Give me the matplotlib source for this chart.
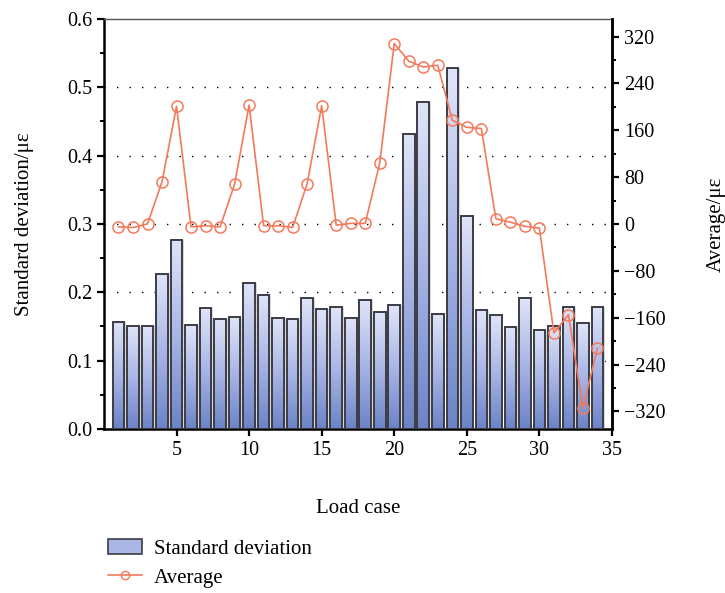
import numpy as np
import matplotlib
matplotlib.use("Agg")
import matplotlib.pyplot as plt
from matplotlib.patches import Patch
from matplotlib.lines import Line2D
from matplotlib.colors import LinearSegmentedColormap
from matplotlib.ticker import MultipleLocator, FormatStrFormatter

plt.rcParams['font.family'] = ['Liberation Serif', 'DejaVu Serif']
plt.rcParams['font.size'] = 15

# 数据
load_case = np.arange(1, 35)
std_dev = np.array([0.157, 0.151, 0.150, 0.227, 0.277, 0.152, 0.177, 0.161, 0.164, 0.214,
                    0.196, 0.163, 0.161, 0.191, 0.176, 0.178, 0.163, 0.189, 0.171, 0.181,
                    0.432, 0.479, 0.168, 0.528, 0.311, 0.174, 0.167, 0.149, 0.192, 0.145,
                    0.151, 0.179, 0.155, 0.178])
average = np.array([-5, -6, 0, 72, 201, -5, -3, -5, 68, 203,
                    -3, -3, -6, 69, 202, -2, 1, 1, 104, 308,
                    278, 268, 271, 177, 165, 163, 9, 3, -4, -7,
                    -186, -155, -314, -212])

fig = plt.figure(figsize=(7.25, 5.93), dpi=100)
ax1 = fig.add_axes([0.1434, 0.2766, 0.7007, 0.6914])

bar_cmap = LinearSegmentedColormap.from_list("bar", ["#6b83c6", "#a9b6e6", "#dfe5f8"])
grad = np.linspace(0, 1, 256).reshape(-1, 1)

# 柱状图（渐变填充）
bars = ax1.bar(load_case, std_dev, width=0.8, color="none", edgecolor="#3c3c46",
               linewidth=1.4, zorder=3)
for b in bars:
    x0, w, h = b.get_x(), b.get_width(), b.get_height()
    ax1.imshow(grad, extent=[x0, x0 + w, 0, h], origin="lower", cmap=bar_cmap,
               aspect="auto", zorder=2)
    # 右侧浅灰阴影
    ax1.add_patch(plt.Rectangle((x0 + w, 0), 0.12, h, color="#d8d8d8", lw=0, zorder=1))

ax1.set_xlim(0, 35)
ax1.set_ylim(0, 0.6)
ax1.set_xticks([5, 10, 15, 20, 25, 30, 35])
ax1.set_yticks(np.arange(0, 0.61, 0.1))
ax1.yaxis.set_minor_locator(MultipleLocator(0.05))
ax1.yaxis.set_major_formatter(FormatStrFormatter("%.1f"))
for y in [0.1, 0.2, 0.3, 0.4, 0.5]:
    ax1.axhline(y, color="black", linestyle=(0, (1, 8)), linewidth=1.0, zorder=0.5)
ax1.set_xlabel("Load case", labelpad=28)
ax1.set_ylabel("Standard deviation/\u03bc\u03b5", labelpad=24)

for s in ["left", "bottom", "right"]:
    ax1.spines[s].set_linewidth(1.8)
ax1.spines["top"].set_linewidth(1.0)
ax1.spines["top"].set_color("#555555")
ax1.tick_params(axis="both", which="major", direction="out", length=5, width=1.6,
                labelsize=14.5)
ax1.tick_params(axis="y", which="minor", direction="out", length=3, width=1.4)

# 右侧 y 轴：平均值
ax2 = ax1.twinx()
line_color = "#f47a5c"
ax2.plot(load_case, average, color=line_color, linewidth=1.2, marker="o",
         markersize=8, markerfacecolor="none", markeredgewidth=1.1, zorder=5)
ax2.set_ylim(-350, 350)
ax2.set_yticks(np.arange(-320, 321, 80))
ax2.yaxis.set_minor_locator(MultipleLocator(40))
ax2.set_ylabel("Average/\u03bc\u03b5", labelpad=30)
ax2.spines["right"].set_linewidth(1.8)
ax2.tick_params(axis="y", which="major", direction="out", length=5, width=1.6,
                labelsize=14.5)
ax2.tick_params(axis="y", which="minor", direction="out", length=3, width=1.4)
for s in ["left", "top", "bottom"]:
    ax2.spines[s].set_visible(False)

# 图例
handles = [Patch(facecolor="#aab7e6", edgecolor="#3c3c46", linewidth=1.2, label="Standard deviation"),
           Line2D([0], [0], color=line_color, marker="o", markersize=6, markerfacecolor="none",
                  linewidth=1.2, label="Average")]
fig.legend(handles=handles, loc="upper left", bbox_to_anchor=(0.138, 0.105), frameon=False,
           fontsize=15, handlelength=1.6, handletextpad=0.6, labelspacing=0.45, borderaxespad=0)

fig.savefig("out.png", dpi=100)
